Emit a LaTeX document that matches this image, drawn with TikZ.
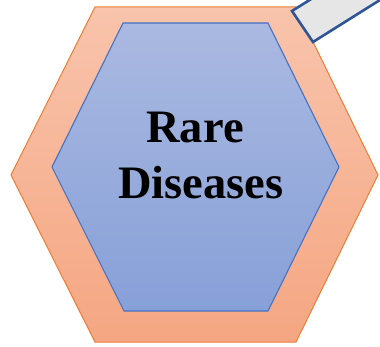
\documentclass[tikz,border=0pt]{standalone}
\usepackage{fontspec}
\setmainfont{Liberation Serif}
\usepackage{tikz}
\usetikzlibrary{positioning}
\definecolor{hexorange}{HTML}{ED7D31}
\definecolor{hexsalmontop}{HTML}{F8C4AC}
\definecolor{hexsalmonbot}{HTML}{F5A682}
\definecolor{hexblue}{HTML}{4472C4}
\definecolor{hexbluetop}{HTML}{AAB9E1}
\definecolor{hexbluebot}{HTML}{87A0D8}
\definecolor{tabgrey}{HTML}{E6E6E6}
\definecolor{tabblue}{HTML}{2F5597}
\tikzset{
  outerhex/.style = {draw=hexorange, line width=1pt,
                     top color=hexsalmontop, bottom color=hexsalmonbot},
  innerhex/.style = {draw=hexblue, line width=1.1pt,
                     top color=hexbluetop, bottom color=hexbluebot},
  tab/.style      = {draw=tabblue, line width=2.6pt, fill=tabgrey,
                     line join=miter},
  title/.style    = {anchor=base, inner sep=0pt,
                     font=\fontsize{46.5}{56}\selectfont\bfseries, text=black},
}
\begin{document}
\begin{tikzpicture}[x=1pt,y=-1pt]
\useasboundingbox (0,0) rectangle (380,347);
\clip (0,0) rectangle (380,347);
% outer hexagon
\draw[outerhex] (95,7) -- (296,7) -- (378,175) -- (296,342) -- (95,342) -- (11,175) -- cycle;
% inner hexagon
\draw[innerhex] (123,23) -- (268,23) -- (339,167) -- (268,311) -- (124,311) -- (52,167) -- cycle;
% grey tab in the corner
\draw[tab] (292,11) -- (313,42) -- (447,-42) -- (426,-73) -- cycle;
% label
\node[title] (rare) at (195,143) {Rare};
\node[title] (diseases) at (201,199) {Diseases};
\end{tikzpicture}
\end{document}
